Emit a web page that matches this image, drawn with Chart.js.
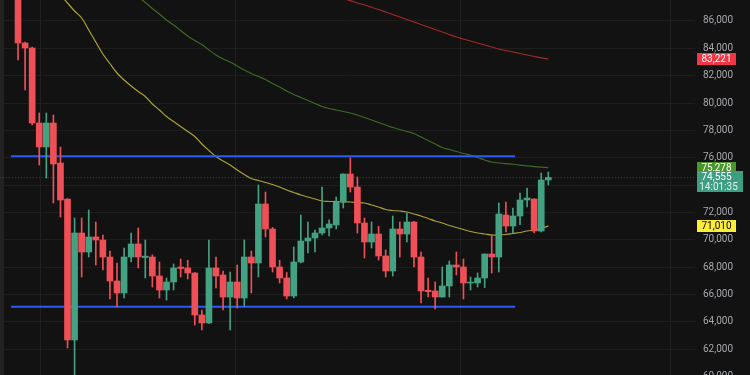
<!DOCTYPE html>
<html><head><meta charset="utf-8">
<script src="https://cdn.jsdelivr.net/npm/chart.js@4.4.1/dist/chart.umd.min.js"></script>
<style>html,body{margin:0;padding:0;background:#121212;}#wrap{width:750px;height:375px;position:relative;}</style>
</head><body><div id="wrap"><canvas id="c"></canvas></div>
<script>
// ---- data ----
const candleOpen = [88400,84390,84025,78538,76783,78538,75613,72980,62665,70492,69102,70200,69980,68736,66981,66103,68736,69687,68700,68736,67346,66322,66908,68000,67932,67566,64494,63908,67932,67420,65810,66908,65737,68736,68297,72613,70785,68005,67200,65884,68370,69907,70126,70492,70858,71077,72759,74808,73857,71223,69833,70419,68810,67712,70785,70419,71296,68736,66300,66249,65810,66615,68151,68005,66835,66835,67200,68956,68736,71808,71004,71735,72906,72980,70638,74369];
const candleHigh = [88800,84450,84100,79270,79270,79124,76783,73000,71589,71589,72174,71296,70346,69175,68297,69395,70492,70858,69980,68900,68370,67200,68224,68590,68500,67600,64860,69980,68736,67700,67639,68151,69980,69175,74004,73491,70900,68500,67600,69468,71808,71296,70700,73857,71450,73126,74808,75978,74589,71589,71296,70985,69250,71735,71296,71955,71350,69102,67200,66908,68005,68443,69102,68590,67273,67566,68956,70346,72686,72759,72320,73418,73784,72990,74881,74955];
const candleLow = [83147,80950,78400,75466,74515,72686,71662,62080,59800,67273,68736,68151,67785,65664,65078,65737,68370,67932,67200,66542,65737,65591,66322,67273,67127,63762,63396,63850,66469,64860,63396,65005,65151,66103,67273,70200,67639,66834,65664,65750,68300,69029,69102,70346,70270,70785,72320,73491,70492,68663,69395,68517,67273,67346,68736,69833,68005,65371,65810,64933,65810,65810,67420,65664,66322,66542,66500,67566,67639,70565,70492,71100,72393,70492,70565,74004];
const candleClose = [84390,84025,78538,76783,78538,75540,72906,62665,70492,69102,70200,69980,68736,66981,66103,68736,69687,68736,68800,67346,66322,66908,67932,67900,67566,64494,63908,67932,67346,65810,66908,65737,68736,68297,72613,70785,68005,67200,65884,68370,69907,70126,70492,70858,71150,72759,74808,73857,71223,69833,70419,68810,67712,70785,70419,71296,68736,66249,66200,65810,66615,68151,68005,66835,66900,67200,68956,68736,71881,71004,71735,72906,73050,70638,74369,74555];

const maYellow = Array(4).fill(null).concat([89072,88487,87902,87317,86731,86219,85342,84464,83586,82891,82196,81684,81245,80843,80477,79928,79490,79014,78648,78283,77917,77551,77002,76527,76088,75759,75466,75101,74771,74479,74332,74186,74040,73857,73638,73455,73272,73126,72979,72833,72796,72796,72760,72760,72723,72687,72540,72394,72211,72138,72101,72028,71882,71736,71553,71370,71224,71041,70895,70748,70602,70492,70419,70346,70346,70383,70456,70529,70639,70712,70822,71010]);
const maGreen = Array(15).fill(null).concat([88560,88194,87755,87353,86914,86512,86073,85707,85305,84903,84573,84281,83879,83513,83220,83001,82708,82415,82160,81940,81721,81428,81172,80879,80623,80404,80185,79965,79745,79599,79490,79380,79270,79124,78941,78758,78575,78392,78209,78063,77917,77770,77514,77258,77002,76746,76600,76454,76307,76198,76015,75832,75686,75613,75560,75520,75460,75400,75350,75310,75278]);
const maRed = Array(45).fill(null).concat([87829,87646,87492,87317,87170,87002,86841,86658,86475,86292,86110,85927,85744,85561,85378,85195,85012,84830,84683,84537,84391,84244,84098,83952,83842,83732,83622,83513,83403,83300,83221]);

const resistanceLevel = 76100;
const supportLevel = 65100;
const levelFrom = -1;      // candle index where the drawn levels start
const levelTo = 70.3;      // candle index where they end
const dayBreaks = [3.1, 30.7, 62.5, 92.2];
const yTickValues = [60000,62000,64000,66000,68000,70000,72000,74000,76000,78000,80000,82000,84000,86000];
const lastTime = '14:01:35';

// ---- chart ----
const UP = '#43a282', DOWN = '#ef4f57';
const idx = candleOpen.map((_, i) => i);
const colors = idx.map(i => candleClose[i] >= candleOpen[i] ? UP : DOWN);
const lastIdx = idx.length - 1;
const lastPrice = candleClose[lastIdx];
const lastOf = a => a[a.length - 1];

const fmt = v => Math.round(v).toLocaleString('en-US');
const priceTags = [
  { value: lastOf(maRed), bg: '#f23645', fg: '#ffffff' },
  { value: lastOf(maGreen), bg: '#4a962c', fg: '#ffffff' },
  { value: lastPrice, bg: '#3d9e82', fg: '#ffffff', sub: lastTime },
  { value: lastOf(maYellow), bg: '#fbee3a', fg: '#000000' }
];

const decor = {
  id: 'decor',
  beforeDatasetsDraw(chart) {
    const c = chart.ctx, xs = chart.scales.x, area = chart.chartArea;
    c.save();
    c.fillStyle = '#222222';
    c.fillRect(0, 0, 4, chart.height);
    c.strokeStyle = '#1f1f1f';
    c.lineWidth = 1;
    dayBreaks.forEach(v => {
      const px = Math.round(xs.getPixelForValue(v)) + 0.5;
      c.beginPath(); c.moveTo(px, area.top); c.lineTo(px, area.bottom); c.stroke();
    });
    c.restore();
  },
  afterDraw(chart) {
    const c = chart.ctx, y = chart.scales.y, left = chart.chartArea.right + 2;
    c.save();
    c.font = '10px Roboto';
    c.textAlign = 'center';
    c.textBaseline = 'middle';
    priceTags.forEach(t => {
      const py = Math.round(y.getPixelForValue(t.value));
      const w = t.sub ? 46 : 39;
      const h = t.sub ? 21 : 12;
      c.fillStyle = t.bg;
      c.fillRect(left, py - 6, w, h);
      c.fillStyle = t.fg;
      c.fillText(fmt(t.value), left + 19.5, py + 0.5);
      if (t.sub) {
        c.fillStyle = 'rgba(255,255,255,0.85)';
        c.fillText(t.sub, left + 21.5, py + 10);
      }
    });
    c.restore();
  }
};

const toPts = a => a.map((v, i) => ({ x: i, y: v }));

new Chart(document.getElementById('c'), {
  type: 'bar',
  data: {
    datasets: [
      { type: 'line', label: 'MA long', data: toPts(maRed), borderColor: '#a52828', borderWidth: 1.2, pointRadius: 0, tension: 0.4, order: 9 },
      { type: 'line', label: 'MA mid', data: toPts(maGreen), borderColor: '#3c6a24', borderWidth: 1.2, pointRadius: 0, tension: 0.4, order: 8 },
      { type: 'line', label: 'MA short', data: toPts(maYellow), borderColor: '#aaa231', borderWidth: 1.2, pointRadius: 0, tension: 0.4, order: 7 },
      { type: 'line', label: 'Last price', data: [{ x: -3, y: lastPrice }, { x: 96, y: lastPrice }], borderColor: 'rgba(45,140,110,0.55)', borderWidth: 1, borderDash: [1, 2], pointRadius: 0, order: 6 },
      { type: 'line', label: 'Resistance', data: [{ x: levelFrom, y: resistanceLevel }, { x: levelTo, y: resistanceLevel }], borderColor: '#2a5cf5', borderWidth: 2, pointRadius: 0, order: 5 },
      { type: 'line', label: 'Support', data: [{ x: levelFrom, y: supportLevel }, { x: levelTo, y: supportLevel }], borderColor: '#2a5cf5', borderWidth: 2, pointRadius: 0, order: 4 },
      { type: 'bar', label: 'Wick', data: idx.map(i => ({ x: i, y: [candleLow[i], candleHigh[i]] })), backgroundColor: colors, barThickness: 1, grouped: false, order: 2 },
      { type: 'bar', label: 'Body', data: idx.map(i => ({ x: i, y: [candleOpen[i], candleClose[i]] })), backgroundColor: colors, barThickness: 6, grouped: false, order: 1 }
    ]
  },
  options: {
    responsive: true,
    maintainAspectRatio: false,
    animation: false,
    layout: { padding: 0 },
    plugins: { legend: { display: false }, tooltip: { enabled: false }, title: { display: false } },
    scales: {
      x: {
        type: 'linear', min: -2.55, max: 95.75, offset: false,
        grid: { display: false },
        border: { display: false },
        ticks: { display: false },
        afterFit: s => { s.height = 0; s.paddingLeft = 0; s.paddingRight = 0; }
      },
      y: {
        position: 'right', min: 60104, max: 87536,
        grid: { color: '#1d1d1d', drawTicks: false },
        border: { display: false },
        ticks: {
          color: '#a6a8ad', padding: 8,
          font: { family: 'Roboto', size: 10 },
          callback: v => fmt(v)
        },
        afterBuildTicks: s => { s.ticks = yTickValues.map(v => ({ value: v })); },
        afterFit: s => { s.width = 55; s.paddingTop = 0; s.paddingBottom = 0; }
      }
    }
  },
  plugins: [decor]
});
</script></body></html>
